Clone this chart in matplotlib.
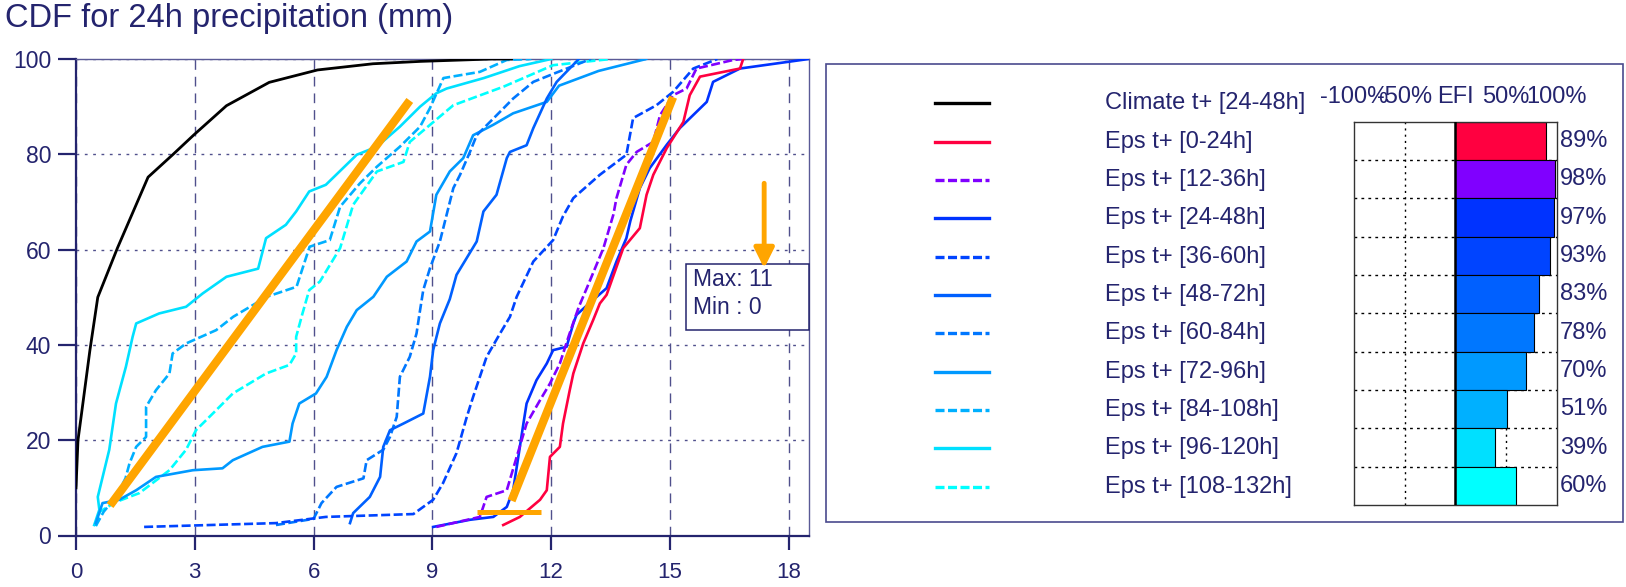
#!/usr/bin/env python3
"""CDF for 24h precipitation with EFI bar panel."""

import matplotlib
matplotlib.use('Agg')
import matplotlib.pyplot as plt
from matplotlib.patches import Rectangle

plt.rcParams['font.family'] = ['Liberation Sans', 'DejaVu Sans']
plt.rcParams['lines.scale_dashes'] = False

NAVY = '#24246e'
ORANGE = '#FFA500'

# ---- data ----
labels = ['Climate t+ [24-48h]', 'Eps t+ [0-24h]', 'Eps t+ [12-36h]', 'Eps t+ [24-48h]',
          'Eps t+ [36-60h]', 'Eps t+ [48-72h]', 'Eps t+ [60-84h]', 'Eps t+ [72-96h]',
          'Eps t+ [84-108h]', 'Eps t+ [96-120h]', 'Eps t+ [108-132h]']
colors = ['#000000', '#FF0040', '#8000FF', '#0033FF', '#0044FF', '#0060FF',
          '#0077FF', '#0099FF', '#00B0FF', '#00E0FF', '#00FFFF']
dashed = [False, False, True, False, True, False, True, False, True, False, True]

climate_x = [0, 0.05, 0.14, 0.35, 0.55, 1.05, 1.82, 2.44, 2.98, 3.8, 4.88, 6.1, 7.5, 8.7, 10.5, 11.0]
climate_y = [10, 20, 25.6, 38.8, 50, 60.4, 75.2, 79.9, 84.1, 90.2, 95.1, 97.7, 99, 99.5, 100, 100]

eps00_x = [10.79, 11.21, 11.72, 11.89, 11.97, 12.22, 12.3, 12.47, 12.56, 12.81, 13.06, 13.23,
           13.4, 13.82, 14.24, 14.41, 14.58, 14.92, 15.34, 15.5, 15.76, 16.77, 16.85]
eps00_y = [2.2, 3.9, 7.5, 9.5, 16.5, 18.6, 23.5, 30.5, 34, 40.3, 45.2, 48.7,
           50.5, 60.3, 64.5, 71.5, 75.7, 81.3, 86.8, 92.4, 96.3, 98, 100]

eps12_x = [9.1, 10.2, 10.37, 10.88, 11.13, 11.38, 11.72, 11.97, 12.22, 12.45, 12.7, 12.9,
           13.32, 13.57, 13.65, 13.9, 14.16, 14.58, 14.75, 15.08, 15.42, 15.67, 16.6, 16.85]
eps12_y = [1.8, 3.9, 8.1, 9.5, 16.5, 23.5, 28.4, 31.9, 36.1, 42, 48, 51.9,
           60.3, 67.3, 70.8, 77.8, 80.5, 82.6, 88.2, 92.4, 93.8, 98, 99.8, 100]

eps24_x = [9.02, 9.95, 10.54, 10.88, 11.04, 11.21, 11.3, 11.38, 11.63, 11.89, 12.05, 12.39,
           12.56, 12.64, 13.0, 13.4, 13.65, 13.9, 14.0, 14.24, 14.49, 14.92, 15.25, 15.93,
           16.09, 16.77, 18.5]
eps24_y = [1.8, 3.3, 3.9, 6.0, 9.5, 18.6, 23.5, 27.7, 32.6, 36.1, 38.9, 39.6,
           44.5, 46.3, 49, 51.9, 57.5, 62.4, 66, 72.9, 77.1, 82, 85.5, 91,
           95.2, 98, 100]

eps36_x = [1.72, 5.05, 6.31, 8.52, 9.02, 9.27, 9.61, 9.87, 10.03, 10.37, 10.71, 10.96,
           11.13, 11.55, 12.05, 12.3, 12.56, 13.23, 13.9, 14.07, 14.66, 15.08, 15.59, 16.2]
eps36_y = [1.8, 2.6, 3.9, 4.5, 7.5, 11, 17.3, 24.9, 29.1, 37.5, 42.4, 45.9,
           50.1, 57.5, 62, 67, 70.8, 75.7, 79.9, 87.6, 90.3, 93.1, 98, 100]

eps48_x = [6.92, 7.0, 7.42, 7.68, 7.76, 7.93, 8.27, 8.77, 8.94, 9.02, 9.19, 9.44,
           9.61, 10.12, 10.29, 10.62, 10.88, 10.96, 11.38, 11.55, 11.89, 12.14, 12.7]
eps48_y = [2.6, 4.7, 8.1, 12.3, 18.6, 22.1, 23.5, 25.6, 33.3, 38.9, 44.5, 49.6,
           54.7, 61.7, 68, 71.5, 79.2, 80.5, 81.9, 85.5, 91.7, 95.2, 100]

eps60_x = [5.05, 6.0, 6.2, 6.58, 7.26, 7.34, 7.76, 7.93, 8.1, 8.18, 8.43, 8.6,
           8.69, 8.77, 8.94, 9.19, 9.53, 9.7, 9.95, 10.12, 10.6, 11.04, 11.55, 11.97, 13.0]
eps60_y = [2.2, 3.5, 6.8, 10.2, 12, 15.8, 18, 20.7, 24.9, 33.3, 37.5, 42.4,
           47.3, 51.5, 56.1, 61.7, 72.9, 75.7, 80.5, 84, 88, 91.7, 95.2, 96.6, 100]

eps72_x = [0.5, 0.67, 1.09, 1.52, 2.02, 2.95, 3.7, 3.96, 4.71, 5.39, 5.47, 5.64,
           6.06, 6.33, 6.58, 6.84, 7.09, 7.51, 7.85, 8.35, 8.6, 8.94, 9.1, 9.44,
           9.78, 10.03, 10.54, 11.04, 11.89, 12.2, 13.2, 14.4]
eps72_y = [2.6, 6.8, 7.5, 9.5, 12.3, 13.7, 14.1, 15.8, 18.6, 19.7, 23.5, 27.7,
           29.8, 33.3, 38.9, 43.8, 47.3, 50.1, 54.3, 57.5, 61.7, 63.8, 71.5, 76.4,
           79.2, 84, 86.2, 88.6, 91, 94.4, 97.5, 100]

eps84_x = [0.5, 0.7, 1.0, 1.25, 1.35, 1.52, 1.77, 1.77, 2.02, 2.36, 2.44, 2.78,
           3.54, 3.97, 4.82, 5.57, 5.9, 6.41, 6.67, 7.17, 7.6, 8.18, 8.69, 8.94,
           9.28, 10.2, 10.88, 11.5]
eps84_y = [2, 5, 8, 12, 15.1, 18.6, 20.7, 27, 30.5, 34, 38.2, 40.3,
           43.1, 45.9, 50.1, 52.2, 60.6, 62, 69, 73.9, 77.4, 81.6, 85.8, 89.7,
           96, 97.3, 99.8, 100]

eps96_x = [0.46, 0.59, 0.55, 0.84, 1.01, 1.26, 1.43, 1.52, 2.1, 2.78, 3.2, 3.8,
           4.6, 4.8, 5.3, 5.56, 5.89, 6.31, 7.09, 7.6, 8.18, 8.69, 9.1, 9.36,
           10.3, 11.2, 12.0]
eps96_y = [2.2, 5.4, 8.1, 18, 27.7, 35.4, 41.7, 44.5, 46.6, 48, 50.8, 54.3,
           56, 62.4, 65.2, 68, 72.2, 73.6, 79.9, 81.6, 85.8, 90, 92.8, 93.8,
           96, 98.5, 100]

eps108_x = [0.5, 0.6, 1.0, 1.6, 2.36, 2.78, 3.03, 3.54, 3.96, 4.38, 4.8, 5.39,
            5.56, 5.56, 5.72, 5.89, 6.16, 6.67, 7.0, 7.6, 8.27, 8.43, 9.53, 10.8,
            12.05, 13.5]
eps108_y = [2, 5, 7, 8.9, 13.7, 18, 22.1, 26.3, 29.8, 31.9, 34, 35.8,
            38.2, 41.7, 46.6, 51.5, 53.3, 60.3, 69.4, 76.4, 78.4, 82.6, 90.3, 94.2,
            98.7, 100]

series_x = [climate_x, eps00_x, eps12_x, eps24_x, eps36_x, eps48_x, eps60_x,
            eps72_x, eps84_x, eps96_x, eps108_x]
series_y = [climate_y, eps00_y, eps12_y, eps24_y, eps36_y, eps48_y, eps60_y,
            eps72_y, eps84_y, eps96_y, eps108_y]

efi_values = [89, 98, 97, 93, 83, 78, 70, 51, 39, 60]
efi_header = ['-100%', '-50%', 'EFI', '50%', '100%']
efi_header_pos = [-1.0, -0.5, 0.0, 0.5, 1.0]

x_ticks = [0, 3, 6, 9, 12, 15, 18]
y_ticks = [0, 20, 40, 60, 80, 100]

max_text = 'Max: 11'
min_text = 'Min : 0'

# hand-drawn orange marks on the picture (data units)
orange_lines = [((0.86, 8.43), (6.3, 91.3)), ((11.0, 15.08), (7.3, 92.0))]
orange_bar = ((10.13, 11.75), (5.0, 5.0))
orange_arrow = ((17.38, 74.5), (17.38, 55.5))

W, H = 1626, 587
fig = plt.figure(figsize=(W / 100, H / 100), dpi=100)
fig.patch.set_facecolor('white')

# ---- main CDF axes ----
ax = fig.add_axes([76 / W, 1 - 535.5 / H, 733.3 / W, 476.5 / H])
ax.set_xlim(0, 18.52)
ax.set_ylim(0, 100)

dash = (0, (6.5, 2.5))
for i in reversed(range(len(labels))):
    lw = 2.0 if i == 0 else 1.9
    ax.plot(series_x[i], series_y[i], color=colors[i], lw=lw,
            linestyle=dash if dashed[i] else '-', zorder=3 + (0 if i else 1))

ax.set_xticks(x_ticks)
ax.set_yticks(y_ticks)
ax.xaxis.grid(True, linestyle=(0, (7, 5)), color='#50508c', lw=1.0)
ax.yaxis.grid(True, linestyle=(0, (2, 4)), color='#50508c', lw=1.0)
ax.set_axisbelow(True)
for side in ['left', 'bottom']:
    ax.spines[side].set_color(NAVY)
    ax.spines[side].set_linewidth(1.6)
for side in ['top', 'right']:
    ax.spines[side].set_color('#5a5a96')
    ax.spines[side].set_linewidth(1.0)
ax.tick_params(axis='y', direction='out', length=13, width=1.6, color=NAVY,
               labelcolor=NAVY, labelsize=16.5, pad=5)
ax.tick_params(axis='x', direction='out', length=10, width=1.6, color=NAVY,
               labelcolor=NAVY, labelsize=16, pad=9)

# max/min box
ax.add_patch(Rectangle((0.832, 0.431), 0.168, 0.139, transform=ax.transAxes,
                       facecolor='white', edgecolor=NAVY, lw=1.1, zorder=6, clip_on=False))
ax.text(0.841, 0.538, max_text, transform=ax.transAxes, fontsize=16.5, color=NAVY,
        va='center', ha='left', zorder=7)
ax.text(0.841, 0.478, min_text, transform=ax.transAxes, fontsize=16.5, color=NAVY,
        va='center', ha='left', zorder=7)

# orange annotations
for xs, ys in orange_lines:
    ax.plot(xs, ys, color=ORANGE, lw=6, solid_capstyle='butt', zorder=8)
ax.plot(orange_bar[0], orange_bar[1], color=ORANGE, lw=3.6, solid_capstyle='butt', zorder=8)
ax.annotate('', xy=orange_arrow[1], xytext=orange_arrow[0],
            arrowprops=dict(arrowstyle='-|>,head_length=0.6,head_width=0.3',
                            color=ORANGE, lw=3.5, mutation_scale=20), zorder=9)

fig.text(5 / W, 1 - 19 / H, 'CDF for 24h precipitation (mm)', fontsize=23.5,
         color=NAVY, ha='left', va='center')

# ---- legend panel (pixel coordinates) ----
lg = fig.add_axes([0, 0, 1, 1])
lg.set_xlim(0, W)
lg.set_ylim(H, 0)
lg.axis('off')
lg.patch.set_alpha(0)
lg.add_patch(Rectangle((826, 64), 797, 458, facecolor='none', edgecolor='#4a4a8e', lw=1.2))
for i, lab in enumerate(labels):
    yy = 103.3 + i * 38.35
    lg.plot([935, 989], [yy, yy], color=colors[i], lw=2.4,
            linestyle=dash if dashed[i] else '-')
    lg.text(1105, yy, lab, fontsize=17, color=NAVY, ha='left', va='center')

# ---- EFI bars ----
ef = fig.add_axes([1354 / W, 1 - 505 / H, 202.7 / W, 383.3 / H])
ef.set_xlim(-1, 1)
ef.set_ylim(len(efi_values), 0)
ef.set_xticks([])
ef.set_yticks([])
for s in ef.spines.values():
    s.set_color('#333333')
    s.set_linewidth(1.0)
for v in [-0.5, 0.5]:
    ef.axvline(v, color='black', lw=1.0, linestyle=(0, (1.5, 3)), zorder=1)
for k in range(1, len(efi_values)):
    ef.axhline(k, color='black', lw=1.0, linestyle=(0, (2, 3)), zorder=1)
ef.barh([k + 0.5 for k in range(len(efi_values))], [v / 100 for v in efi_values],
        height=1.0, left=0, color=colors[1:], edgecolor='black', lw=0.8, zorder=2)
ef.axvline(0, color='black', lw=1.8, zorder=3)
for k, v in enumerate(efi_values):
    ef.text(1.03, k + 0.5, f'{v}%', fontsize=17, color=NAVY, ha='left', va='center',
            clip_on=False)
for txt, pos in zip(efi_header, efi_header_pos):
    ef.text(pos, -0.65, txt, fontsize=17, color=NAVY, ha='center', va='center',
            clip_on=False)

fig.savefig('out.png', dpi=100, facecolor='white')
